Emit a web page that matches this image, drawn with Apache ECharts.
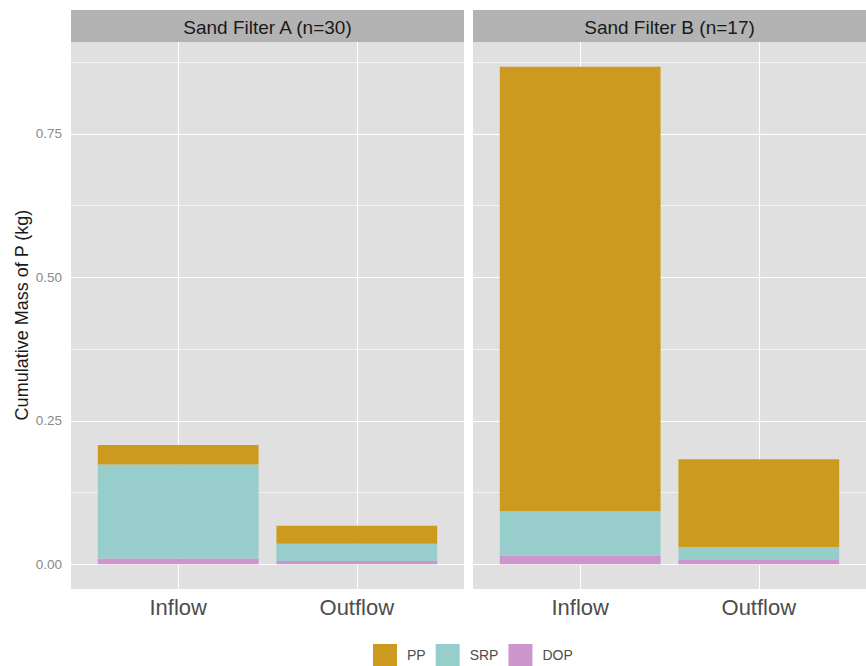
<!DOCTYPE html>
<html>
<head>
<meta charset="utf-8">
<script src="https://cdn.jsdelivr.net/npm/echarts@6/dist/echarts.min.js"></script>
<style>
html,body{margin:0;padding:0;background:#fff;}
#chart{width:866px;height:666px;}
</style>
</head>
<body>
<div id="chart"></div>
<script>
// ---- data ----
const panels = ['Sand Filter A (n=30)', 'Sand Filter B (n=17)'];
const categories = ['Inflow', 'Outflow'];
const seriesNames = ['PP', 'SRP', 'DOP'];
// values per panel: [Inflow, Outflow]
const DOP_A = [0.010, 0.006];
const SRP_A = [0.164, 0.030];
const PP_A  = [0.034, 0.031];
const DOP_B = [0.015, 0.009];
const SRP_B = [0.078, 0.021];
const PP_B  = [0.774, 0.153];
const yTicks = [0, 0.25, 0.5, 0.75];
const yMinorTicks = [0.125, 0.375, 0.625, 0.875];

const colors = {PP: '#CC9A1E', SRP: '#97CDCB', DOP: '#CC96CC'};
const FONT = '"Liberation Sans", Arial, sans-serif';

// ---- layout (pixels) ----
const panelTop = 42, panelBottom = 589, stripTop = 10;
const panelX = [[71, 464], [473, 866]];
const yMin = -0.043, yMax = 0.91;     // continuous range of the panel (ggplot expansion)
const xMin = 0.4, xMax = 2.6;         // discrete positions 1..2 with 0.6 expansion
const unitX = (panelX[0][1] - panelX[0][0]) / (xMax - xMin);

const grids = [], xAxes = [], yAxes = [], series = [], graphics = [];
const data = [
  {PP: PP_A, SRP: SRP_A, DOP: DOP_A},
  {PP: PP_B, SRP: SRP_B, DOP: DOP_B}
];
const catPos = categories.map((c, k) => k + 1);

panelX.forEach((p, i) => {
  grids.push({left: p[0], top: panelTop, width: p[1] - p[0], height: panelBottom - panelTop,
    show: true, backgroundColor: '#E0E0E0', borderWidth: 0});
  graphics.push({type: 'rect', z: 100, shape: {x: p[0], y: stripTop, width: p[1] - p[0], height: panelTop - stripTop}, style: {fill: '#B3B3B3'}});
  graphics.push({type: 'text', z: 101, x: (p[0] + p[1]) / 2, y: (stripTop + panelTop) / 2 + 1,
    style: {text: panels[i], fill: '#1A1A1A', font: '19px ' + FONT, align: 'center', verticalAlign: 'middle'}});
  xAxes.push({
    type: 'value', gridIndex: i, min: xMin, max: xMax,
    axisLine: {show: false},
    axisTick: {show: false, customValues: catPos},
    axisLabel: {customValues: catPos, margin: 7, fontSize: 22, color: '#4D4D4D', fontFamily: FONT,
      formatter: v => categories[Math.round(v) - 1] || ''},
    splitLine: {show: true, lineStyle: {color: '#FFFFFF', width: 1.1}}
  });
  yAxes.push({
    type: 'value', gridIndex: i, min: yMin, max: yMax,
    axisLine: {show: false},
    axisTick: {show: false, customValues: yTicks},
    axisLabel: {show: i === 0, customValues: yTicks, margin: 9, fontSize: 13.5, color: '#8A8A8A', fontFamily: FONT,
      formatter: v => v.toFixed(2)},
    splitLine: {show: true, lineStyle: {color: '#FFFFFF', width: 1.1}}
  });
  yAxes.push({
    type: 'value', gridIndex: i, min: yMin, max: yMax,
    axisLine: {show: false},
    axisTick: {show: false, customValues: yMinorTicks},
    axisLabel: {show: false, customValues: yMinorTicks},
    splitLine: {show: true, lineStyle: {color: '#FFFFFF', width: 0.6}}
  });
  ['DOP', 'SRP', 'PP'].forEach(name => {
    series.push({
      name: name, type: 'bar', stack: 'panel' + i, xAxisIndex: i, yAxisIndex: 2 * i,
      barWidth: 0.9 * unitX,
      itemStyle: {color: colors[name]},
      emphasis: {disabled: true},
      encode: {x: 1, y: 0},
      data: data[i][name].map((v, k) => [v, catPos[k]])
    });
  });
});

graphics.push({type: 'text', z: 101, x: 22, y: 315, rotation: Math.PI / 2,
  style: {text: 'Cumulative Mass of P (kg)', fill: '#1A1A1A', font: '18px ' + FONT, align: 'center', verticalAlign: 'middle'}});

const chart = echarts.init(document.getElementById('chart'), null, {renderer: 'svg'});
chart.setOption({
  animation: false,
  backgroundColor: '#FFFFFF',
  grid: grids,
  xAxis: xAxes,
  yAxis: yAxes,
  legend: {
    data: seriesNames, top: 644, left: 373, padding: 0, itemWidth: 24, itemHeight: 22, itemGap: 10,
    icon: 'rect',
    textStyle: {fontSize: 14, color: '#4D4D4D', fontFamily: FONT, padding: [2, 0, 0, 5]},
    selectedMode: false
  },
  graphic: graphics,
  series: series
});
</script>
</body>
</html>
